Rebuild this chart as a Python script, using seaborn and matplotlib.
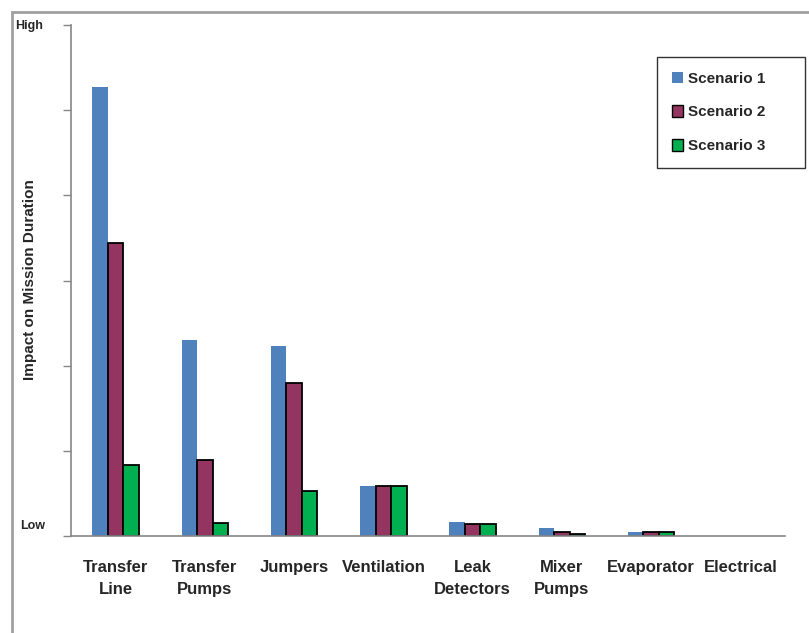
import matplotlib
matplotlib.use("Agg")
import matplotlib.pyplot as plt
import matplotlib.patches as mpatches
import seaborn as sns
import pandas as pd

categories = ["Transfer\nLine", "Transfer\nPumps", "Jumpers", "Ventilation",
              "Leak\nDetectors", "Mixer\nPumps", "Evaporator", "Electrical"]
scenarios = ["Scenario 1", "Scenario 2", "Scenario 3"]
scenario_1 = [5.27, 2.30, 2.23, 0.59, 0.16, 0.09, 0.05, 0.0]
scenario_2 = [3.44, 0.89, 1.80, 0.59, 0.14, 0.05, 0.05, 0.0]
scenario_3 = [0.83, 0.15, 0.53, 0.59, 0.14, 0.02, 0.05, 0.0]
colors = ["#4F81BD", "#943461", "#00B050"]
edges = ["none", "black", "black"]

df = pd.DataFrame({
    "category": categories * 3,
    "scenario": [s for s in scenarios for _ in categories],
    "impact": scenario_1 + scenario_2 + scenario_3,
})

sns.set_theme(style="white")
plt.rcParams["font.family"] = ["Liberation Sans", "DejaVu Sans"]
plt.rcParams["font.weight"] = "bold"

fig = plt.figure(figsize=(8.09, 6.33), dpi=100)
ax = fig.add_axes([71 / 809, 1 - 536 / 633, 714 / 809, 511 / 633])

sns.barplot(data=df, x="category", y="impact", hue="scenario", order=categories,
            hue_order=scenarios, palette=colors, width=0.52, saturation=1,
            dodge=True, legend=False, ax=ax)

for cont, ec in zip(ax.containers, edges):
    for bar in cont:
        if ec == "none" or bar.get_height() == 0:
            bar.set_edgecolor("none")
            bar.set_linewidth(0)
        else:
            bar.set_edgecolor(ec)
            bar.set_linewidth(1.3)

ax.set_xlim(-0.5, 7.5)
ax.set_ylim(0, 6)
ax.set_yticks(range(7))
ax.set_yticklabels([])
ax.tick_params(axis="y", direction="out", length=6, width=1, color="#868686", left=True)
ax.tick_params(axis="x", length=0, pad=17, labelsize=12)
for lab in ax.get_xticklabels():
    lab.set_linespacing(1.6)
    lab.set_fontweight("bold")
    lab.set_verticalalignment("top")
for side in ("top", "right"):
    ax.spines[side].set_visible(False)
for side in ("left", "bottom"):
    ax.spines[side].set_color("#868686")
    ax.spines[side].set_linewidth(1.2)
ax.set_xlabel("")
ax.set_ylabel("")

# Low / High end labels on the value axis
fig.text(15 / 809, 1 - 26 / 633, "High", fontsize=9, fontweight="bold", va="center", ha="left")
fig.text(20 / 809, 1 - 526 / 633, "Low", fontsize=9, fontweight="bold", va="center", ha="left")
fig.text(30 / 809, 1 - 280 / 633, "Impact on Mission Duration", fontsize=11,
         fontweight="bold", rotation=90, va="center", ha="center")

handles = [mpatches.Patch(facecolor=c, edgecolor=("none" if e == "none" else e), linewidth=1.0)
           for c, e in zip(colors, edges)]
leg = fig.legend(handles, scenarios, loc="upper left",
                 bbox_to_anchor=(657 / 809, 1 - 165 / 633, 148 / 809, 108 / 633),
                 mode="expand", frameon=True, fancybox=False, edgecolor="black",
                 handlelength=0.75, handleheight=0.75, handletextpad=0.35,
                 labelspacing=1.3, borderpad=0.95, borderaxespad=0,
                 prop={"weight": "bold", "size": 11})
leg.get_frame().set_linewidth(1.0)
leg._legend_box.align = "right"

# Outer chart-area frame
fig.patches.append(mpatches.Rectangle((12 / 809, -0.1), 1.2, 1 - 12 / 633 + 0.1,
                                      transform=fig.transFigure, fill=False,
                                      edgecolor="#A0A0A0", linewidth=2.0))

fig.savefig("out.png", dpi=100)
